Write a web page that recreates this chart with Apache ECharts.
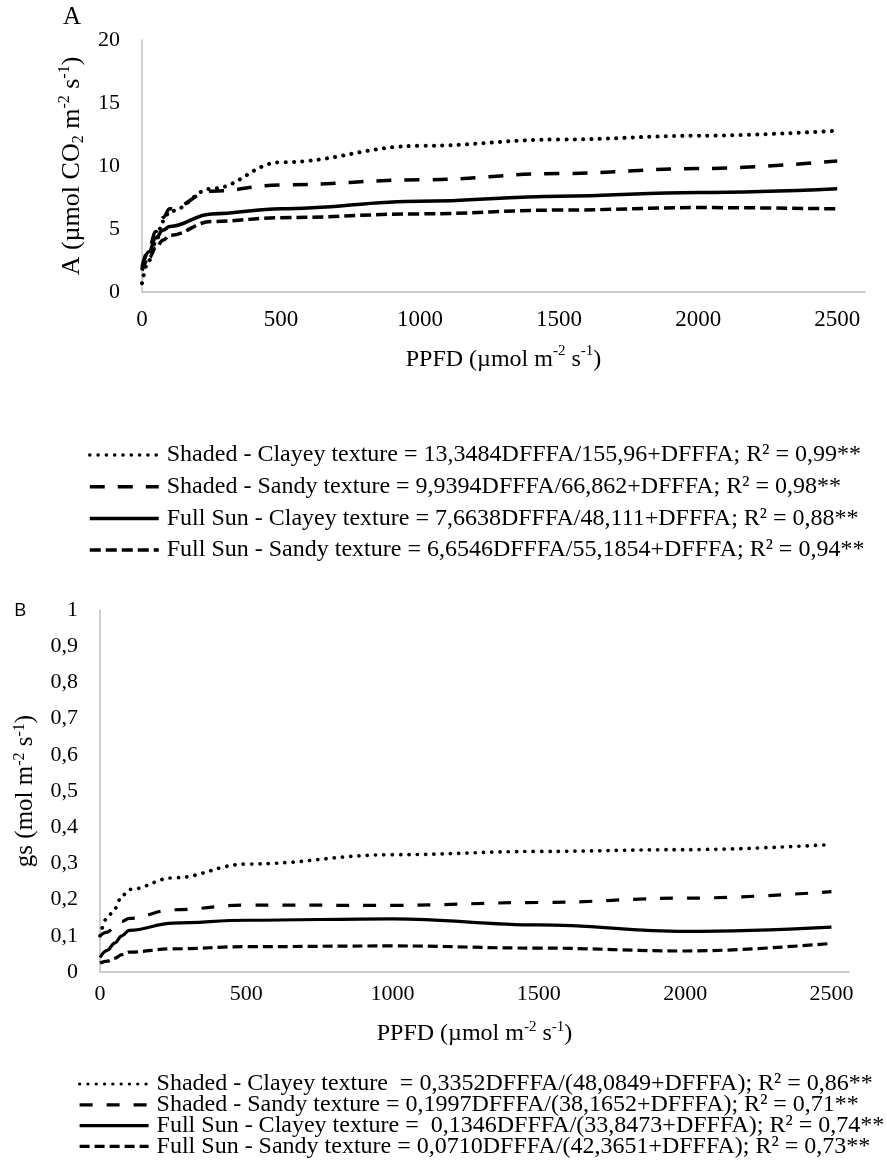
<!DOCTYPE html>
<html>
<head>
<meta charset="utf-8">
<script src="https://cdn.jsdelivr.net/npm/echarts@6/dist/echarts.min.js"></script>
<style>
  html, body { margin: 0; padding: 0; background: #fff; }
  #main { width: 887px; height: 1166px; }
</style>
</head>
<body>
<div id="main"></div>
<script>
  // PPFD levels (µmol m-2 s-1) shared by both panels
  var ppfd = [0, 25, 50, 75, 100, 250, 500, 1000, 1500, 2000, 2500];

  // panel A - net photosynthesis
  var aShadedClayey = [0.7, 2.5, 4.0, 5.6, 6.4, 8.2, 10.3, 11.6, 12.1, 12.4, 12.8];
  var aShadedSandy  = [1.8, 3.5, 4.8, 5.9, 6.6, 8.0, 8.5, 8.9, 9.4, 9.8, 10.4];
  var aSunClayey    = [2.0, 3.2, 4.3, 4.9, 5.2, 6.2, 6.6, 7.2, 7.6, 7.9, 8.2];
  var aSunSandy     = [1.7, 2.7, 3.5, 4.1, 4.5, 5.6, 5.9, 6.2, 6.5, 6.7, 6.6];

  // panel B - stomatal conductance
  var bShadedClayey = [0.10, 0.15, 0.175, 0.21, 0.228, 0.26, 0.298, 0.324, 0.333, 0.338, 0.352];
  var bShadedSandy  = [0.10, 0.11, 0.125, 0.14, 0.148, 0.172, 0.185, 0.184, 0.192, 0.204, 0.222];
  var bSunClayey    = [0.04, 0.06, 0.08, 0.10, 0.115, 0.135, 0.143, 0.147, 0.130, 0.112, 0.124];
  var bSunSandy     = [0.025, 0.03, 0.038, 0.048, 0.055, 0.064, 0.07, 0.072, 0.066, 0.058, 0.079];

  var namesA = [
    'Shaded - Clayey texture = 13,3484DFFFA/155,96+DFFFA; R² = 0,99**',
    'Shaded - Sandy texture = 9,9394DFFFA/66,862+DFFFA; R² = 0,98**',
    'Full Sun - Clayey texture = 7,6638DFFFA/48,111+DFFFA; R² = 0,88**',
    'Full Sun - Sandy texture = 6,6546DFFFA/55,1854+DFFFA; R² = 0,94**'
  ];
  var namesB = [
    'Shaded - Clayey texture  = 0,3352DFFFA/(48,0849+DFFFA); R² = 0,86**',
    'Shaded - Sandy texture = 0,1997DFFFA/(38,1652+DFFFA); R² = 0,71**',
    'Full Sun - Clayey texture =  0,1346DFFFA/(33,8473+DFFFA); R² = 0,74**',
    'Full Sun - Sandy texture = 0,0710DFFFA/(42,3651+DFFFA); R² = 0,73**'
  ];

  var serif = 'Liberation Serif';

  function pairs(ys) {
    var out = [];
    for (var i = 0; i < ppfd.length; i++) out.push([ppfd[i], ys[i]]);
    return out;
  }

  // dotted, long dash, solid, short dash
  var dashA = [[0.1, 8.2], [15, 13], 'solid', [11, 5]];
  var dashB = [[0.1, 8.2], [13, 14], 'solid', [10, 5]];

  function mkSeries(name, ys, idx, dash, gi, w) {
    return {
      name: name,
      type: 'line',
      xAxisIndex: gi,
      yAxisIndex: gi,
      data: pairs(ys),
      smooth: 0.4,
      smoothMonotone: 'x',
      symbol: 'none',
      itemStyle: { color: '#000' },
      lineStyle: {
        color: '#000',
        width: idx === 0 ? w + 0.5 : w,
        type: dash[idx],
        cap: idx === 0 ? 'round' : 'butt'
      }
    };
  }

  var series = [];
  [aShadedClayey, aShadedSandy, aSunClayey, aSunSandy].forEach(function (ys, i) {
    series.push(mkSeries(namesA[i], ys, i, dashA, 0, 3.5));
  });
  [bShadedClayey, bShadedSandy, bSunClayey, bSunSandy].forEach(function (ys, i) {
    series.push(mkSeries(namesB[i], ys, i, dashB, 1, 3.2));
  });

  var axisLine = { show: true, lineStyle: { color: '#bfbfbf', width: 1.5 } };
  function plain(v) { return String(v); }

  var chart = echarts.init(document.getElementById('main'));
  chart.setOption({
    animation: false,
    backgroundColor: '#fff',
    textStyle: { fontFamily: serif, color: '#000' },
    grid: [
      { left: 142, top: 40, width: 723, height: 252 },
      { left: 100, top: 610, width: 749, height: 362 }
    ],
    xAxis: [{
      gridIndex: 0, type: 'value', min: 0, max: 2600, interval: 500,
      axisLine: axisLine, axisTick: { show: false }, splitLine: { show: false },
      axisLabel: { showMaxLabel: false, margin: 16, fontSize: 23, fontFamily: serif, color: '#000', formatter: plain },
      name: '{t|PPFD (µmol m}{sup|-2}{t| s}{sup|-1}{t|)}',
      nameLocation: 'middle', nameGap: 52,
      nameTextStyle: {
        rich: {
          t: { fontSize: 24, fontFamily: serif, color: '#000', lineHeight: 28, verticalAlign: 'bottom' },
          sup: { fontSize: 15, fontFamily: serif, color: '#000', lineHeight: 28, verticalAlign: 'top' }
        }
      }
    }, {
      gridIndex: 1, type: 'value', min: 0, max: 2560, interval: 500,
      axisLine: axisLine, axisTick: { show: false }, splitLine: { show: false },
      axisLabel: { showMaxLabel: false, margin: 11, fontSize: 22, fontFamily: serif, color: '#000', formatter: plain },
      name: '{t|PPFD (µmol m}{sup|-2}{t| s}{sup|-1}{t|)}',
      nameLocation: 'middle', nameGap: 48,
      nameTextStyle: {
        rich: {
          t: { fontSize: 24, fontFamily: serif, color: '#000', lineHeight: 26, verticalAlign: 'bottom' },
          sup: { fontSize: 15, fontFamily: serif, color: '#000', lineHeight: 26, verticalAlign: 'top' }
        }
      }
    }],
    yAxis: [{
      gridIndex: 0, type: 'value', min: 0, max: 20, interval: 5,
      axisLine: axisLine, axisTick: { show: false }, splitLine: { show: false },
      axisLabel: { margin: 22, fontSize: 22, fontFamily: serif, color: '#000' },
      name: '{t|A (µmol CO}{sub|2}{t| m}{sup|-2}{t| s}{sup|-1}{t|)}',
      nameLocation: 'middle', nameGap: 52, nameRotate: 90,
      nameTextStyle: {
        rich: {
          t: { fontSize: 26, fontFamily: serif, color: '#000', lineHeight: 30, verticalAlign: 'middle' },
          sup: { fontSize: 16, fontFamily: serif, color: '#000', lineHeight: 30, verticalAlign: 'top' },
          sub: { fontSize: 16, fontFamily: serif, color: '#000', lineHeight: 30, verticalAlign: 'bottom' }
        }
      }
    }, {
      gridIndex: 1, type: 'value', min: 0, max: 1, interval: 0.1,
      axisLine: axisLine, axisTick: { show: false }, splitLine: { show: false },
      axisLabel: {
        margin: 22, fontSize: 22, fontFamily: serif, color: '#000',
        formatter: function (v) { return String(Math.round(v * 10) / 10).replace('.', ','); }
      },
      name: '{t|gs (mol m}{sup|-2}{t| s}{sup|-1}{t|)}',
      nameLocation: 'middle', nameGap: 62, nameRotate: 90,
      nameTextStyle: {
        rich: {
          t: { fontSize: 25, fontFamily: serif, color: '#000', lineHeight: 26, verticalAlign: 'middle' },
          sup: { fontSize: 16, fontFamily: serif, color: '#000', lineHeight: 26, verticalAlign: 'top' }
        }
      }
    }],
    legend: [{
      data: namesA, orient: 'vertical', left: 83, top: 438,
      itemWidth: 69, itemHeight: 14, itemGap: 7.7, selectedMode: false,
      itemStyle: { opacity: 0 },
      lineStyle: { width: 3.5 },
      textStyle: { fontFamily: serif, fontSize: 24, color: '#000', lineHeight: 24, padding: [0, 0, 0, 3] }
    }, {
      data: namesB, orient: 'vertical', left: 78, top: 1072, height: 94, padding: 0,
      itemWidth: 69, itemHeight: 14, itemGap: -3.2, selectedMode: false,
      itemStyle: { opacity: 0 },
      lineStyle: { width: 3.2 },
      textStyle: { fontFamily: serif, fontSize: 24, color: '#000', lineHeight: 20, padding: [0, 0, 0, 3] }
    }],
    graphic: [
      { type: 'text', left: 63, top: 5, style: { text: 'A', fontFamily: serif, fontSize: 25, fill: '#000' } },
      { type: 'text', left: 14, top: 601, style: { text: 'B', fontFamily: 'Open Sans', fontSize: 19, fill: '#000' } }
    ],
    series: series
  });
</script>
</body>
</html>
